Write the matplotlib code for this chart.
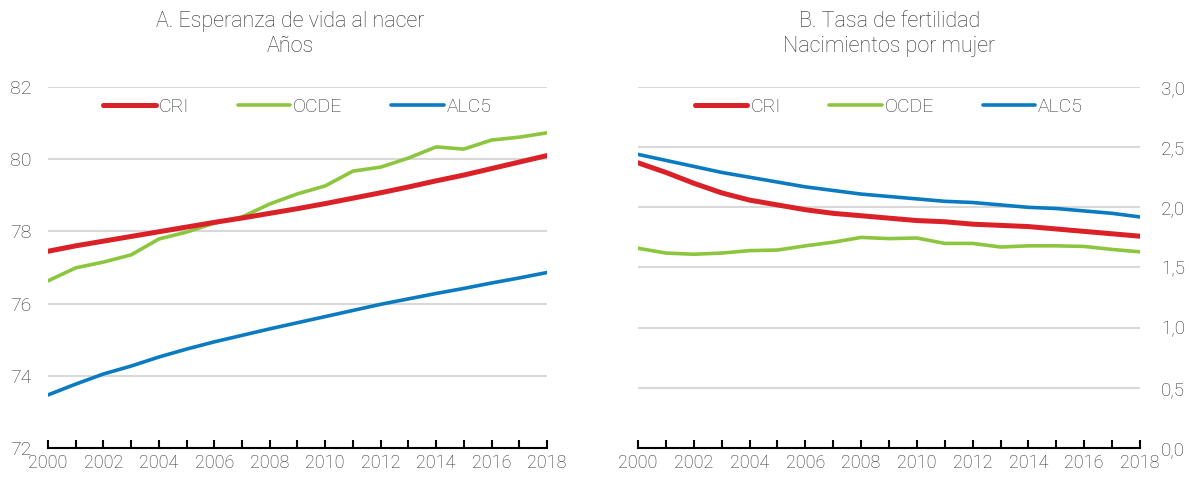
import numpy as np
import matplotlib.pyplot as plt
from matplotlib.ticker import FuncFormatter

plt.rcParams['font.family'] = ['Roboto', 'DejaVu Sans']
plt.rcParams['font.weight'] = 'light'

years = list(range(2000, 2019))

# A. esperanza de vida al nacer (años)
vida_cri = [77.45, 77.60, 77.73, 77.86, 77.99, 78.12, 78.25, 78.37, 78.50, 78.63,
            78.77, 78.92, 79.07, 79.23, 79.40, 79.56, 79.74, 79.92, 80.10]
vida_ocde = [76.63, 76.99, 77.15, 77.35, 77.79, 77.98, 78.23, 78.40, 78.76, 79.04,
             79.26, 79.67, 79.78, 80.03, 80.34, 80.28, 80.53, 80.61, 80.73]
vida_alc5 = [73.47, 73.77, 74.05, 74.27, 74.52, 74.74, 74.94, 75.12, 75.30, 75.47,
             75.64, 75.81, 75.98, 76.13, 76.28, 76.42, 76.57, 76.71, 76.86]

# B. tasa de fertilidad (nacimientos por mujer)
fert_cri = [2.37, 2.29, 2.20, 2.12, 2.06, 2.02, 1.98, 1.95, 1.93, 1.91,
            1.89, 1.88, 1.86, 1.85, 1.84, 1.82, 1.80, 1.78, 1.76]
fert_ocde = [1.66, 1.62, 1.61, 1.62, 1.64, 1.645, 1.68, 1.71, 1.75, 1.74,
             1.745, 1.70, 1.70, 1.67, 1.68, 1.68, 1.675, 1.65, 1.63]
fert_alc5 = [2.44, 2.39, 2.34, 2.29, 2.25, 2.21, 2.17, 2.14, 2.11, 2.09,
             2.07, 2.05, 2.04, 2.02, 2.00, 1.99, 1.97, 1.95, 1.92]

c_red = '#DA2128'
c_green = '#8CC63F'
c_blue = '#0B7BC1'
c_text = '#2e2e2e'

fig = plt.figure(figsize=(11.89, 4.78), dpi=100)
ax1 = fig.add_axes([0.0404, 0.0628, 0.4196, 0.7552])
ax2 = fig.add_axes([0.5366, 0.0628, 0.4222, 0.7552])


def style(ax, lo, hi, step, right=False):
    ax.set_xlim(2000, 2018)
    ax.set_ylim(lo, hi)
    ax.set_yticks(np.arange(lo, hi + step / 2, step))
    ax.set_xticks(range(2000, 2019, 2))
    ax.set_xticks(years, minor=True)
    for s in ['top', 'left', 'right']:
        ax.spines[s].set_visible(False)
    ax.spines['bottom'].set_color('black')
    ax.spines['bottom'].set_linewidth(1.5)
    ax.grid(axis='y', color='#d9d9d9', linewidth=1.5)
    ax.set_axisbelow(True)
    ax.tick_params(axis='x', which='both', direction='in', length=6, width=1.5,
                   color='black', labelsize=13, labelcolor=c_text, pad=4)
    if right:
        ax.yaxis.tick_right()
        ax.tick_params(axis='y', length=0, labelsize=13.5, labelcolor=c_text, pad=15)
    else:
        ax.tick_params(axis='y', length=0, labelsize=14, labelcolor=c_text, pad=12)


style(ax1, 72, 82, 2)
style(ax2, 0, 3.0, 0.5, right=True)
ax2.yaxis.set_major_formatter(FuncFormatter(lambda v, p: f'{v:.1f}'.replace('.', ',')))

for ax, cri, ocde, alc5 in [(ax1, vida_cri, vida_ocde, vida_alc5),
                            (ax2, fert_cri, fert_ocde, fert_alc5)]:
    ax.plot(years, cri, color=c_red, lw=3.6, label='CRI', solid_capstyle='round', zorder=4)
    ax.plot(years, ocde, color=c_green, lw=2.6, label='OCDE', solid_capstyle='round', zorder=3)
    ax.plot(years, alc5, color=c_blue, lw=2.6, label='ALC5', solid_capstyle='round', zorder=3)
    leg = ax.legend(loc='upper center', bbox_to_anchor=(0.5, 1.018), ncol=3, frameon=False,
                    fontsize=14, handlelength=2.7, handletextpad=0.15, columnspacing=2.5)
    for t in leg.get_texts():
        t.set_color(c_text)

fig.text(0.244, 0.955, 'A. Esperanza de vida al nacer', ha='center', va='center',
         fontsize=15.5, color=c_text)
fig.text(0.244, 0.903, 'Años', ha='center', va='center', fontsize=15.5, color=c_text)
fig.text(0.748, 0.955, 'B. Tasa de fertilidad', ha='center', va='center',
         fontsize=15.5, color=c_text)
fig.text(0.748, 0.903, 'Nacimientos por mujer', ha='center', va='center',
         fontsize=15.5, color=c_text)

plt.savefig('out.png', dpi=100)
